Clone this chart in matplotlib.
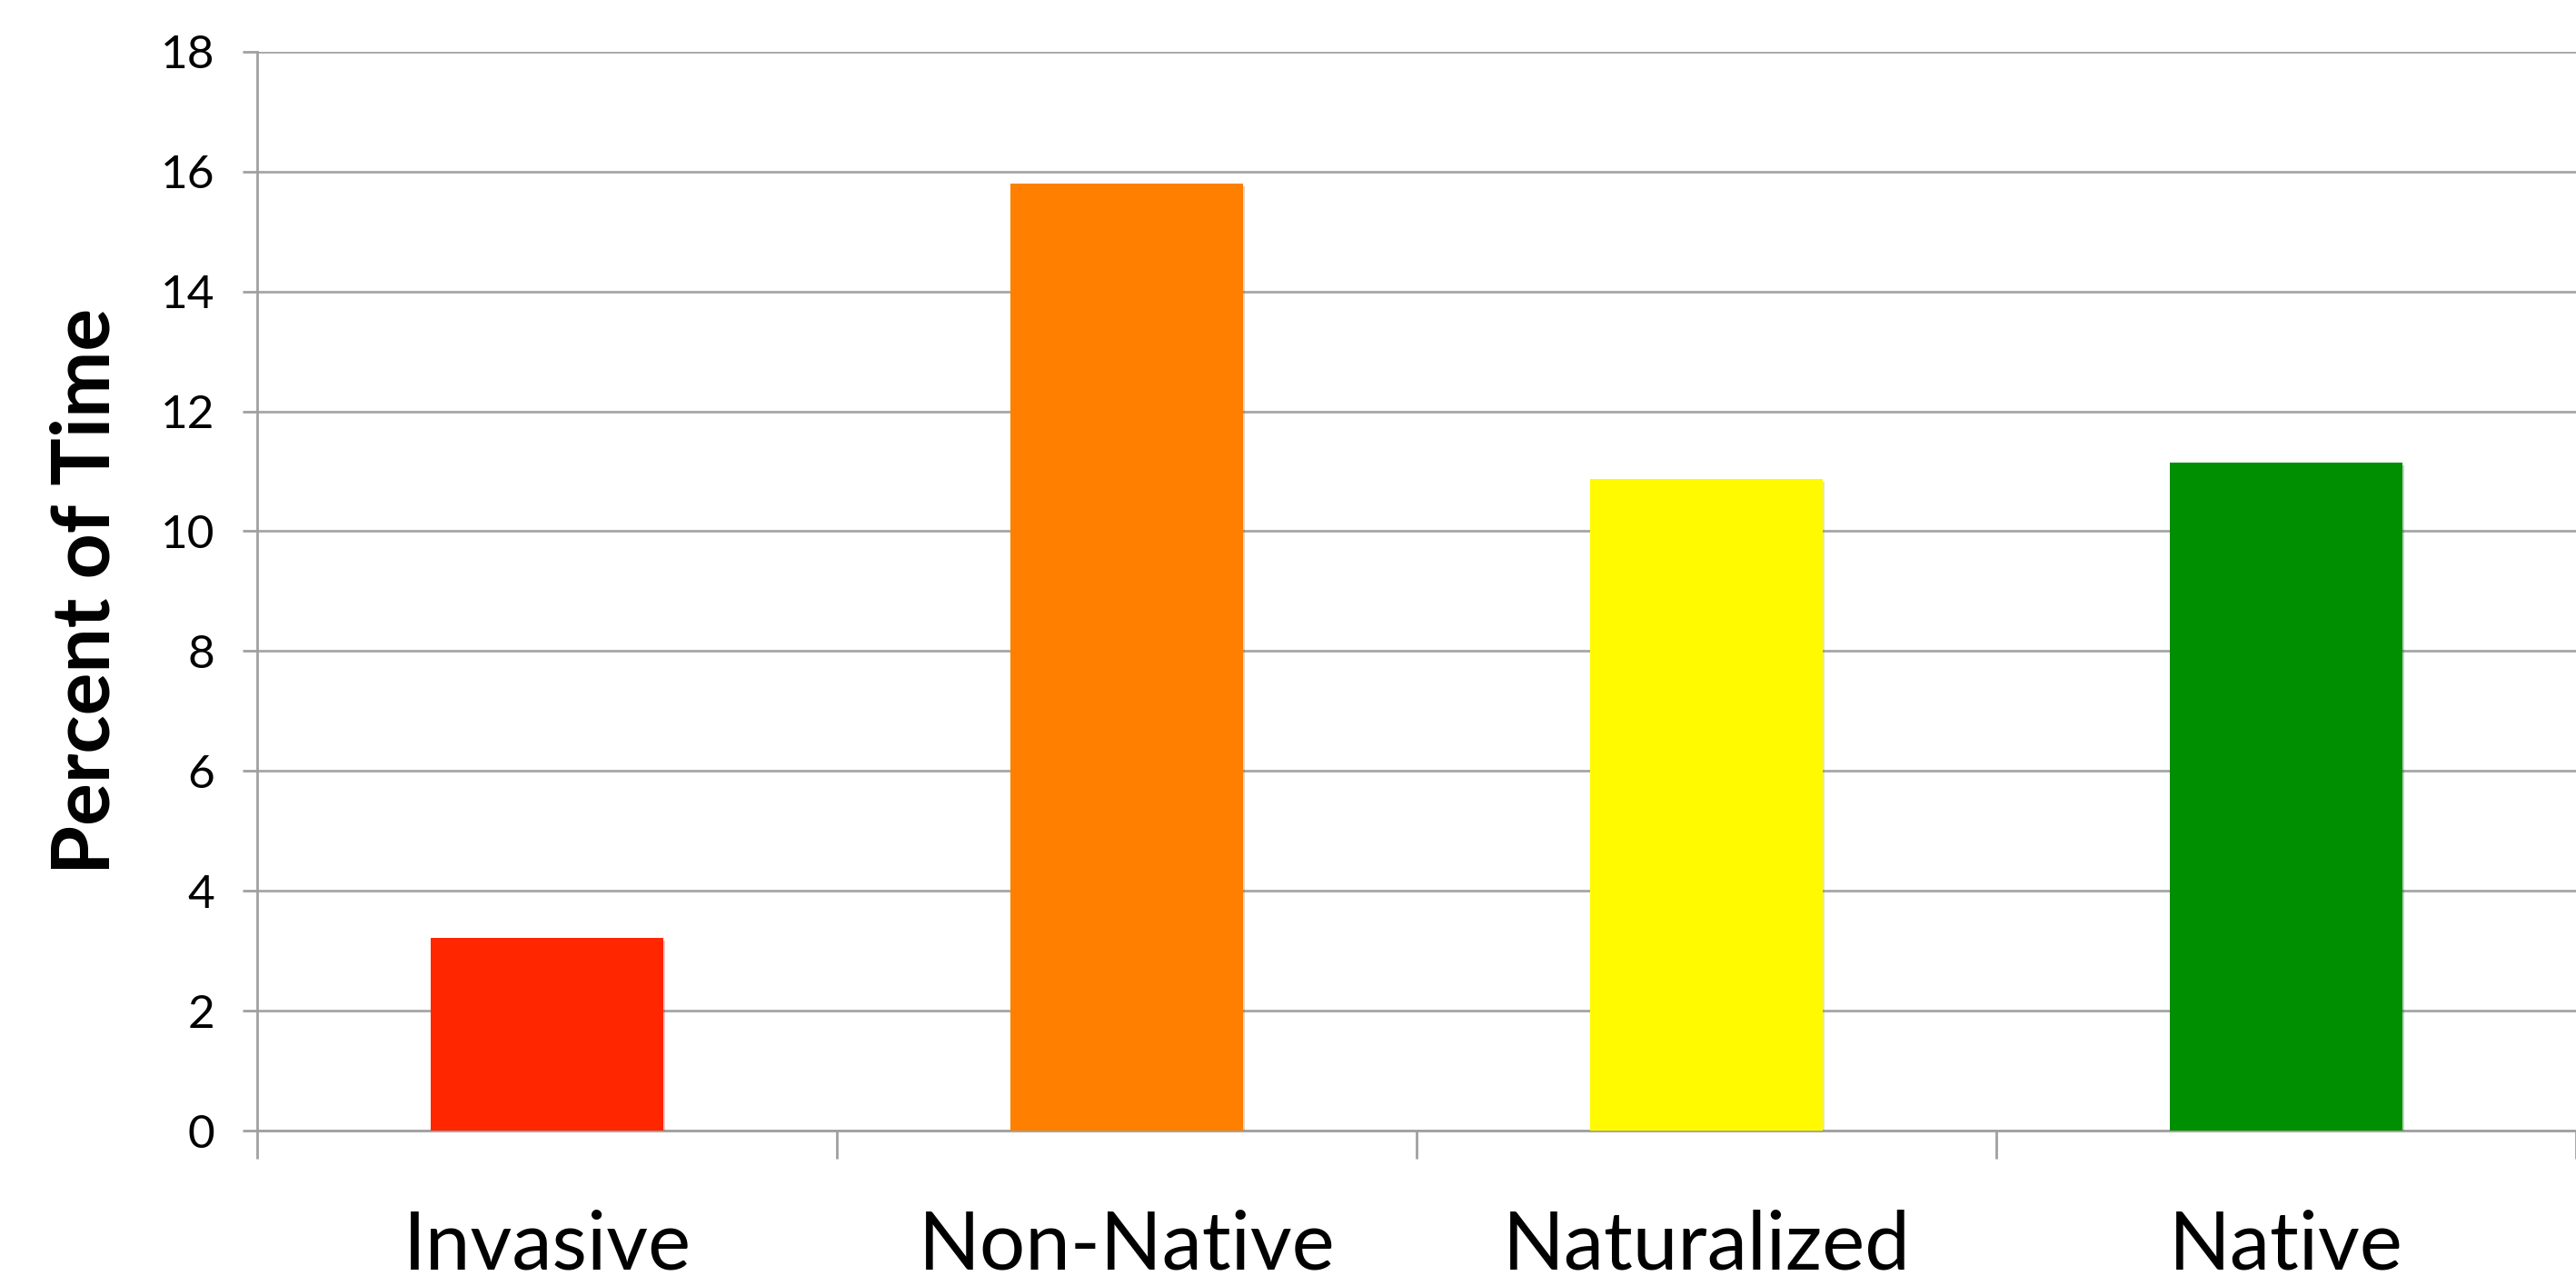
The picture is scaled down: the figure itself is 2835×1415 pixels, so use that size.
import matplotlib.pyplot as plt
import matplotlib.patheffects as pe
import numpy as np

plt.rcParams['font.family'] = ['Lato', 'DejaVu Sans']

# percent of observation time per plant category
categories = ['Invasive', 'Non-Native', 'Naturalized', 'Native']
percent_time = [3.22, 15.80, 10.87, 11.14]
bar_colors = ['#FF2600', '#FF7F00', '#FFFA00', '#008F00']

fig = plt.figure(figsize=(28.35, 14.15), dpi=100)
ax = fig.add_axes([0.0998, 0.1206, 0.9002, 0.8394])

x = np.arange(len(categories))
bars = ax.bar(x, percent_time, width=0.40, color=bar_colors, zorder=3)
for b in bars:
    b.set_path_effects([pe.SimplePatchShadow(offset=(2, -2), alpha=0.25, rho=0.6), pe.Normal()])

ax.set_xlim(-0.5, len(categories) - 0.5)
ax.set_ylim(0, 18)
ax.set_yticks(np.arange(0, 19, 2))
ax.yaxis.grid(True, color='#a6a6a6', linewidth=2, zorder=0)

grey = '#a0a0a0'
for side in ['top', 'right']:
    ax.spines[side].set_visible(False)
for side in ['left', 'bottom']:
    ax.spines[side].set_color(grey)
    ax.spines[side].set_linewidth(2)

# category labels centred, tick marks between categories
ax.set_xticks(x)
ax.set_xticklabels(categories, fontsize=64)
ax.tick_params(axis='x', which='major', length=0, pad=62)
ax.set_xticks(np.arange(-0.5, len(categories) + 0.5, 1), minor=True)
ax.tick_params(axis='x', which='minor', length=22, width=2, color=grey)

ax.tick_params(axis='y', labelsize=37, length=11.5, width=2, color=grey, pad=22)

ax.set_ylabel('Percent of Time', fontsize=63, fontweight='bold', labelpad=30)

fig.savefig('out.png', dpi=100)
